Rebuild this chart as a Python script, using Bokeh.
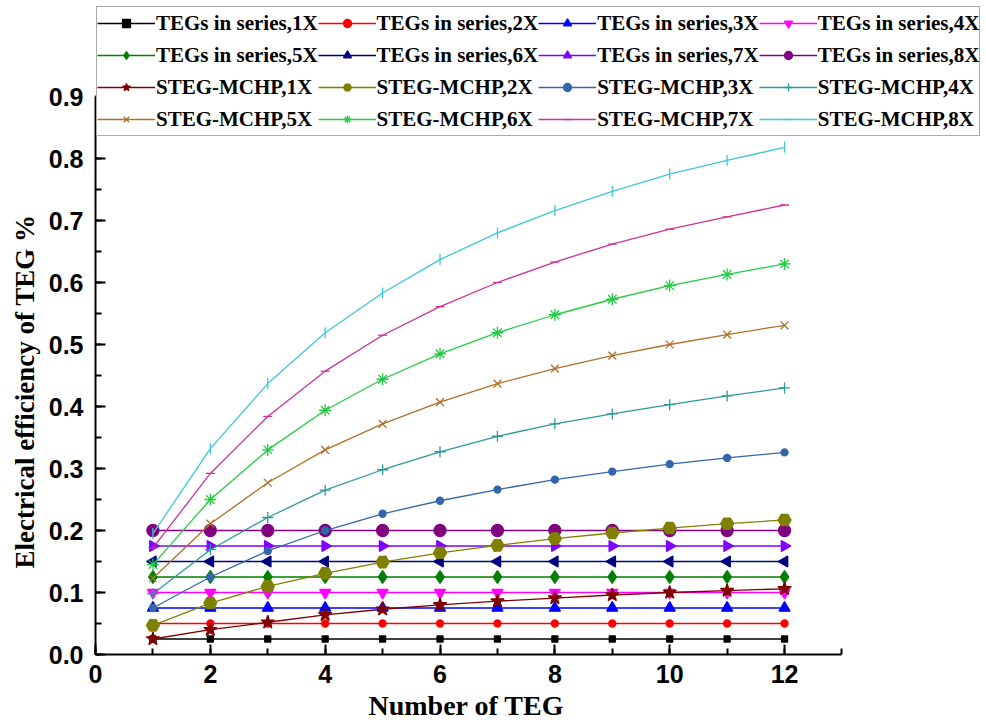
import numpy as np
from bokeh.plotting import figure
from bokeh.models import (Legend, LegendItem, SingleIntervalTicker,
                          NumeralTickFormatter, Range1d, Title)
from bokeh.embed import file_html
from bokeh.resources import INLINE

# ---------------- data ----------------
n_teg = [1, 2, 3, 4, 5, 6, 7, 8, 9, 10, 11, 12]

teg_1x = [0.025, 0.025, 0.025, 0.025, 0.025, 0.025, 0.025, 0.025, 0.025, 0.025, 0.025, 0.025]
teg_2x = [0.050, 0.050, 0.050, 0.050, 0.050, 0.050, 0.050, 0.050, 0.050, 0.050, 0.050, 0.050]
teg_3x = [0.075, 0.075, 0.075, 0.075, 0.075, 0.075, 0.075, 0.075, 0.075, 0.075, 0.075, 0.075]
teg_4x = [0.100, 0.100, 0.100, 0.100, 0.100, 0.100, 0.100, 0.100, 0.100, 0.100, 0.100, 0.100]
teg_5x = [0.125, 0.125, 0.125, 0.125, 0.125, 0.125, 0.125, 0.125, 0.125, 0.125, 0.125, 0.125]
teg_6x = [0.150, 0.150, 0.150, 0.150, 0.150, 0.150, 0.150, 0.150, 0.150, 0.150, 0.150, 0.150]
teg_7x = [0.175, 0.175, 0.175, 0.175, 0.175, 0.175, 0.175, 0.175, 0.175, 0.175, 0.175, 0.175]
teg_8x = [0.200, 0.200, 0.200, 0.200, 0.200, 0.200, 0.200, 0.200, 0.200, 0.200, 0.200, 0.200]

steg_1x = [0.025, 0.040, 0.052, 0.064, 0.073, 0.080, 0.086, 0.091, 0.096, 0.100, 0.103, 0.106]
steg_2x = [0.047, 0.083, 0.110, 0.131, 0.149, 0.164, 0.176, 0.187, 0.196, 0.204, 0.211, 0.217]
steg_3x = [0.075, 0.125, 0.167, 0.200, 0.227, 0.248, 0.266, 0.282, 0.295, 0.307, 0.317, 0.326]
steg_4x = [0.098, 0.169, 0.221, 0.265, 0.298, 0.327, 0.352, 0.372, 0.388, 0.403, 0.417, 0.430]
steg_5x = [0.123, 0.211, 0.277, 0.330, 0.372, 0.407, 0.437, 0.461, 0.482, 0.500, 0.516, 0.531]
steg_6x = [0.145, 0.250, 0.330, 0.394, 0.444, 0.485, 0.519, 0.548, 0.573, 0.595, 0.613, 0.630]
steg_7x = [0.172, 0.292, 0.384, 0.457, 0.515, 0.561, 0.600, 0.633, 0.662, 0.686, 0.706, 0.725]
steg_8x = [0.195, 0.332, 0.437, 0.519, 0.583, 0.637, 0.680, 0.716, 0.747, 0.775, 0.797, 0.818]

series_names = [
    "TEGs in series,1X", "TEGs in series,2X", "TEGs in series,3X", "TEGs in series,4X",
    "TEGs in series,5X", "TEGs in series,6X", "TEGs in series,7X", "TEGs in series,8X",
    "STEG-MCHP,1X", "STEG-MCHP,2X", "STEG-MCHP,3X", "STEG-MCHP,4X",
    "STEG-MCHP,5X", "STEG-MCHP,6X", "STEG-MCHP,7X", "STEG-MCHP,8X",
]
series_values = [teg_1x, teg_2x, teg_3x, teg_4x, teg_5x, teg_6x, teg_7x, teg_8x,
                 steg_1x, steg_2x, steg_3x, steg_4x, steg_5x, steg_6x, steg_7x, steg_8x]

x_label = "Number of TEG"
y_label = "Electrical efficiency of TEG %"

# ---------------- styles ----------------
styles = [
    # color, marker, size, angle
    ("#000000", "square", 6, 0),
    ("#FF0000", "circle", 7, 0),
    ("#0000FF", "triangle", 11, 0),
    ("#FF00FF", "inverted_triangle", 11, 0),
    ("#008000", "diamond", 13, 0),
    ("#000080", "triangle", 11, np.pi / 2),
    ("#8000FF", "triangle", 11, -np.pi / 2),
    ("#800080", "circle", 12, 0),
    ("#800000", "star", 14, 0),
    ("#808000", "hex", 13, 0),
    ("#3366AA", "circle", 7, 0),
    ("#2E9999", "cross", 11, 0),
    ("#B0702A", "x", 11, 0),
    ("#22CC44", "asterisk", 12, 0),
    ("#CC3399", "dash", 9, 0),
    ("#3CC8D8", "dash", 11, np.pi / 2),
]

# frame: x 95..985 px, y 5..654 px ; 0..12 on x spans 95..784, 0..0.9 on y spans 654..96
p = figure(width=986, height=725, output_backend="svg", toolbar_location=None,
           x_range=Range1d(0, 15.5), y_range=Range1d(0, 1.0468),
           min_border_left=95, min_border_right=1, min_border_top=5,
           min_border_bottom=71)
p.outline_line_color = None
p.xgrid.visible = False
p.ygrid.visible = False
p.background_fill_color = "white"
p.border_fill_color = "white"

items = []
for name, vals, (col, mk, sz, ang) in zip(series_names, series_values, styles):
    lw = 1.6 if name.startswith("TEGs") else 1.3
    lr = p.line(n_teg, vals, line_color=col, line_width=lw)
    sr = p.scatter(n_teg, vals, marker=mk, size=sz, angle=ang,
                   fill_color=col, line_color=col, line_width=1.3)
    items.append(LegendItem(label=name, renderers=[lr, sr]))

# axes
font_sans = "Liberation Sans"
font_serif = "Liberation Serif"
p.xaxis.ticker = SingleIntervalTicker(interval=2, num_minor_ticks=2)
p.yaxis.ticker = SingleIntervalTicker(interval=0.1, num_minor_ticks=2)
p.yaxis.formatter = NumeralTickFormatter(format="0.0")
p.xaxis.bounds = (0, 13)
p.yaxis.bounds = (0, 0.9)
for ax in (p.xaxis[0], p.yaxis[0]):
    ax.axis_line_width = 2
    ax.axis_line_color = "black"
    ax.major_tick_in = 10
    ax.major_tick_out = 0
    ax.minor_tick_in = 6
    ax.minor_tick_out = 0
    ax.major_tick_line_width = 2
    ax.minor_tick_line_width = 2
    ax.major_label_text_font = font_sans
    ax.major_label_text_font_style = "bold"
    ax.major_label_text_font_size = "25px"
    ax.major_label_text_color = "black"
p.xaxis.major_label_standoff = 10
p.yaxis.major_label_standoff = 12

p.add_layout(Title(text=x_label, align="left", offset=273,
                   text_font=font_serif, text_font_style="bold",
                   text_font_size="28px", text_color="black", standoff=4), "below")
p.add_layout(Title(text=y_label, align="left", offset=86,
                   text_font=font_serif, text_font_style="bold",
                   text_font_size="27px", text_color="black", standoff=12), "left")

legend = Legend(items=items, orientation="horizontal", ncols=4,
                location="top_left",
                glyph_width=58, glyph_height=20, label_standoff=1,
                label_height=32, spacing=0, padding=0, margin=1,
                label_text_font=font_serif, label_text_font_style="bold",
                label_text_font_size="21px", label_text_color="black",
                border_line_color="#555555", border_line_width=1,
                background_fill_color="white", background_fill_alpha=1.0)
p.add_layout(legend)

open("out.html", "w").write(file_html(p, INLINE))
